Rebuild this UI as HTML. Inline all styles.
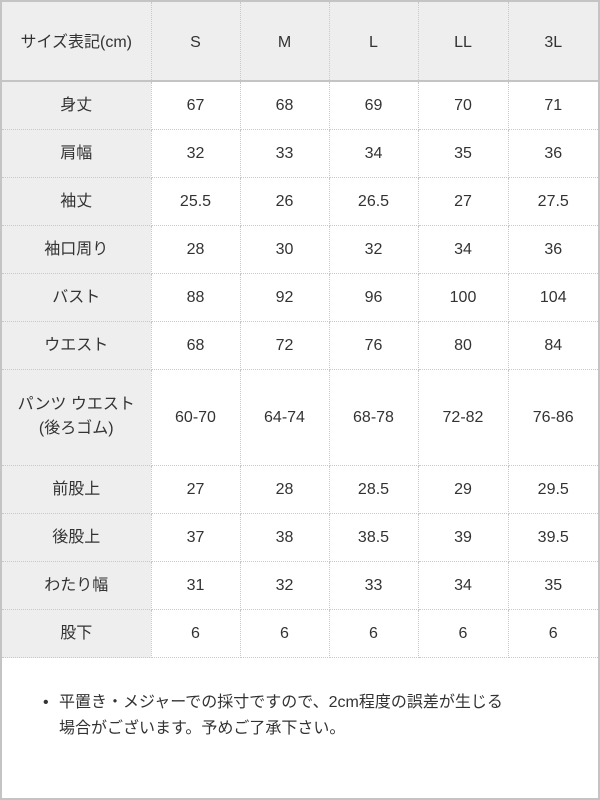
<!DOCTYPE html>
<html><head><meta charset="utf-8"><style>
body{margin:0;width:600px;height:800px;background:#fff;font-family:"Liberation Sans","Noto Sans CJK JP",sans-serif;color:#333;}
.wrap{position:absolute;left:0;top:0;width:596px;height:796px;border:2px solid #c4c4c4;}
table{border-collapse:collapse;position:absolute;left:0;top:0;width:596px;table-layout:fixed;}
td{text-align:center;vertical-align:middle;font-size:16px;border-right:1px dotted #c8c8c8;border-bottom:1px dotted #c8c8c8;padding:0;height:47px;}
td:first-child{background:#eeeeee;}
td:first-child span{position:relative;top:-3px;}
tr.h td{background:#eeeeee;height:78px;border-bottom:2px solid #c4c4c4;}
tr.h td span.n{position:relative;top:2px;}
tr.h td:first-child span{top:-1px;}
td:last-child{border-right:none;}
tr.p td{height:95px;line-height:24px;}
tr.p td:first-child span{top:-1px;}
.note{position:absolute;left:41px;top:688px;font-size:16px;line-height:26px;}
.note .b{position:absolute;left:0;top:0;}
.note .t{margin-left:16px;}
</style></head><body><div class="wrap">
<table>
<colgroup><col style="width:149px"><col style="width:89px"><col style="width:89px"><col style="width:89px"><col style="width:90px"><col></colgroup>
<tr class="h"><td><span>サイズ表記(cm)</span></td><td><span class="n">S</span></td><td><span class="n">M</span></td><td><span class="n">L</span></td><td><span class="n">LL</span></td><td><span class="n">3L</span></td></tr>
<tr><td><span>身丈</span></td><td>67</td><td>68</td><td>69</td><td>70</td><td>71</td></tr>
<tr><td><span>肩幅</span></td><td>32</td><td>33</td><td>34</td><td>35</td><td>36</td></tr>
<tr><td><span>袖丈</span></td><td>25.5</td><td>26</td><td>26.5</td><td>27</td><td>27.5</td></tr>
<tr><td><span>袖口周り</span></td><td>28</td><td>30</td><td>32</td><td>34</td><td>36</td></tr>
<tr><td><span>バスト</span></td><td>88</td><td>92</td><td>96</td><td>100</td><td>104</td></tr>
<tr><td><span>ウエスト</span></td><td>68</td><td>72</td><td>76</td><td>80</td><td>84</td></tr>
<tr class="p"><td><span>パンツ ウエスト<br>(後ろゴム)</span></td><td>60-70</td><td>64-74</td><td>68-78</td><td>72-82</td><td>76-86</td></tr>
<tr><td><span>前股上</span></td><td>27</td><td>28</td><td>28.5</td><td>29</td><td>29.5</td></tr>
<tr><td><span>後股上</span></td><td>37</td><td>38</td><td>38.5</td><td>39</td><td>39.5</td></tr>
<tr><td><span>わたり幅</span></td><td>31</td><td>32</td><td>33</td><td>34</td><td>35</td></tr>
<tr><td><span>股下</span></td><td>6</td><td>6</td><td>6</td><td>6</td><td>6</td></tr>
</table>
<div class="note"><span class="b">•</span><div class="t">平置き・メジャーでの採寸ですので、2cm程度の誤差が生じる<br>場合がございます。予めご了承下さい。</div></div>
</div></body></html>
